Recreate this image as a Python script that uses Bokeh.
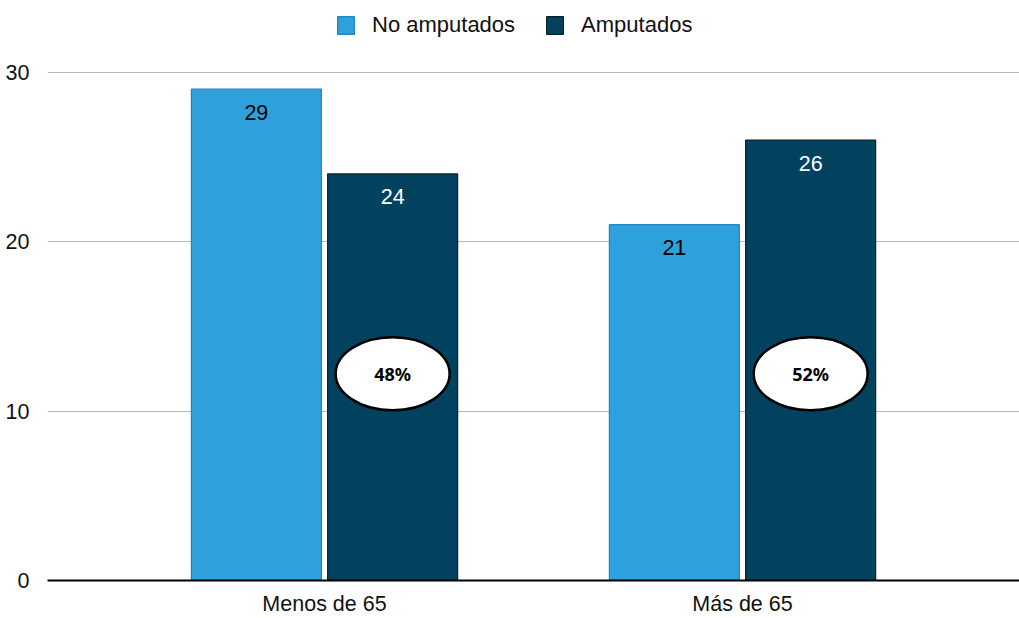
from bokeh.plotting import figure
from bokeh.models import ColumnDataSource, FactorRange, FixedTicker
from bokeh.transform import dodge
from bokeh.core.properties import value
from bokeh.embed import file_html
from bokeh.resources import INLINE

categories = ["Menos de 65", "Más de 65"]
series_names = ["No amputados", "Amputados"]
no_amputados = [29, 21]
amputados = [24, 26]
pct_labels = ["48%", "52%"]
y_ticks = [0, 10, 20, 30]

LIGHT = "#2ea0dc"
DARK = "#02425f"
FONT = "Liberation Sans"
FS = "21.5px"
LABEL_Y = 12.2

src = ColumnDataSource(dict(
    cat=categories,
    no=no_amputados,
    amp=amputados,
    no_lbl=[str(v) for v in no_amputados],
    amp_lbl=[str(v) for v in amputados],
    pct=pct_labels,
    pct_y=[LABEL_Y] * len(categories),
))

p = figure(
    width=1019, height=618,
    x_range=FactorRange(*categories, range_padding=0.1627, range_padding_units="percent"),
    y_range=(0, 34.235),
    output_backend="svg", toolbar_location=None,
    min_border_left=47, min_border_right=0, min_border_top=0, min_border_bottom=33,
)
p.outline_line_color = None
p.background_fill_color = "white"
p.border_fill_color = "white"

W = 0.311
OFF = 0.163
p.vbar(x=dodge("cat", -OFF, range=p.x_range), top="no", width=W, source=src,
       fill_color=LIGHT, line_color="#2384bd", line_width=1.2, legend_label=series_names[0])
p.vbar(x=dodge("cat", OFF, range=p.x_range), top="amp", width=W, source=src,
       fill_color=DARK, line_color="#0b1e2a", line_width=1.2, legend_label=series_names[1])

p.text(x=dodge("cat", -OFF, range=p.x_range), y="no", text="no_lbl", source=src,
       text_align="center", text_baseline="middle", y_offset=23,
       text_font=value(FONT), text_font_size=FS, text_color="black")
p.text(x=dodge("cat", OFF, range=p.x_range), y="amp", text="amp_lbl", source=src,
       text_align="center", text_baseline="middle", y_offset=23,
       text_font=value(FONT), text_font_size=FS, text_color="white")

p.ellipse(x=dodge("cat", OFF, range=p.x_range), y="pct_y", width=114, height=73,
          width_units="screen", height_units="screen", source=src,
          fill_color="white", line_color="black", line_width=2.5)
p.text(x=dodge("cat", OFF, range=p.x_range), y="pct_y", text="pct", source=src,
       text_align="center", text_baseline="middle",
       text_font=value("Noto Sans"), text_font_style="bold", text_font_size="18px",
       text_color="black")

# axes
p.xaxis.axis_line_color = "black"
p.xaxis.axis_line_width = 2
p.xaxis.major_tick_line_color = None
p.xaxis.minor_tick_line_color = None
p.xaxis.major_label_text_font = FONT
p.xaxis.major_label_text_font_size = FS
p.xaxis.major_label_text_color = "#111111"
p.xaxis.major_label_standoff = 5

p.yaxis.ticker = FixedTicker(ticks=y_ticks)
p.yaxis.axis_line_color = None
p.yaxis.major_tick_line_color = None
p.yaxis.minor_tick_line_color = None
p.yaxis.major_label_text_font = FONT
p.yaxis.major_label_text_font_size = FS
p.yaxis.major_label_text_color = "#111111"
p.yaxis.major_label_standoff = 12

p.xgrid.grid_line_color = None
p.ygrid.grid_line_color = "#b7b7b7"
p.ygrid.grid_line_width = 1.2

# legend
lg = p.legend[0]
lg.orientation = "horizontal"
lg.location = (288, 542)
lg.padding = 0
lg.margin = 0
lg.spacing = 29
lg.glyph_width = 21
lg.glyph_height = 22
lg.label_standoff = 16
lg.label_text_font = FONT
lg.label_text_font_size = "22px"
lg.label_text_color = "#111111"
lg.label_text_baseline = "middle"
lg.border_line_color = None
lg.background_fill_alpha = 0

open("out.html", "w").write(file_html(p, INLINE))
